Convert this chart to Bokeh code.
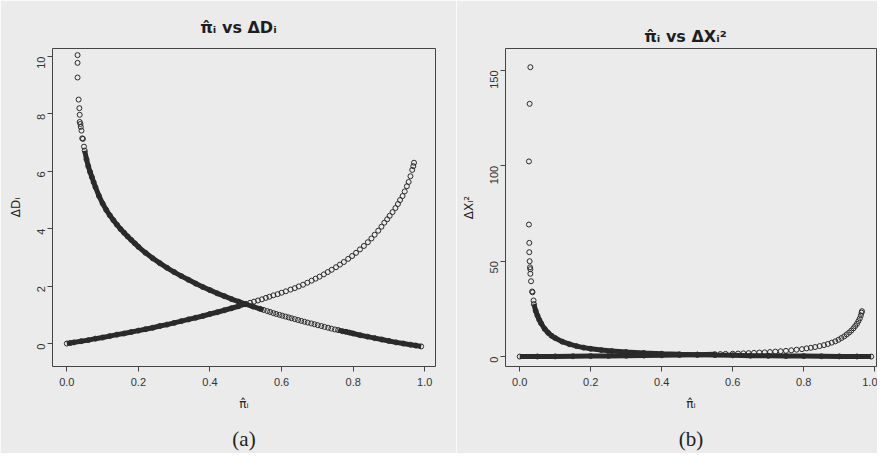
import math
from bokeh.plotting import figure
from bokeh.layouts import row
from bokeh.models import FixedTicker, LinearAxis, Range1d, PrintfTickFormatter
from bokeh.embed import file_html
from bokeh.resources import INLINE

# ---------------- panel (a): pi_hat vs Delta D ----------------
# y = 1 cases, isolated points at the top
a1_top_pi = [0.030, 0.030, 0.030, 0.033, 0.035, 0.036, 0.036, 0.038, 0.039, 0.041, 0.043, 0.045, 0.048]
a1_top_d = [10.05, 9.78, 9.27, 8.50, 8.20, 7.97, 7.72, 7.65, 7.55, 7.42, 7.15, 7.13, 6.86]
# y = 1 cases, dense band
a1_band_pi = [0.050, 0.055, 0.060, 0.065, 0.070, 0.075, 0.080, 0.090, 0.100, 0.110, 0.120, 0.130,
              0.140, 0.150, 0.160, 0.170, 0.180, 0.190, 0.200, 0.220, 0.240, 0.260, 0.280, 0.300,
              0.320, 0.340, 0.360, 0.380, 0.400, 0.420, 0.440, 0.460, 0.480, 0.500, 0.520, 0.540, 0.550]
a1_band_d = [6.72, 6.42, 6.18, 5.98, 5.80, 5.62, 5.45, 5.14, 4.88, 4.66, 4.47, 4.30,
             4.14, 3.99, 3.86, 3.73, 3.61, 3.49, 3.37, 3.16, 2.97, 2.80, 2.64, 2.49,
             2.35, 2.22, 2.09, 1.97, 1.86, 1.75, 1.65, 1.55, 1.46, 1.37, 1.29, 1.21, 1.17]
# y = 1 cases, loose middle section
a1_mid_pi = [0.560, 0.568, 0.577, 0.585, 0.594, 0.602, 0.611, 0.620, 0.628, 0.637, 0.646, 0.655,
             0.664, 0.673, 0.683, 0.692, 0.701, 0.711, 0.720, 0.730, 0.739, 0.749]
a1_mid_d = [1.13, 1.10, 1.06, 1.03, 1.00, 0.97, 0.94, 0.91, 0.88, 0.85, 0.82, 0.79,
            0.76, 0.73, 0.70, 0.67, 0.64, 0.61, 0.58, 0.55, 0.52, 0.49]
# y = 1 cases, dense tail
a1_tail_pi = [0.758, 0.770, 0.780, 0.790, 0.800, 0.820, 0.840, 0.860, 0.880, 0.900, 0.920, 0.940, 0.960, 0.975, 0.990]
a1_tail_d = [0.47, 0.43, 0.41, 0.38, 0.35, 0.29, 0.24, 0.19, 0.14, 0.09, 0.04, 0.00, -0.04, -0.07, -0.10]
# y = 0 cases, dense band
a0_band_pi = [0.000, 0.010, 0.020, 0.040, 0.060, 0.080, 0.100, 0.120, 0.140, 0.160, 0.180, 0.200,
              0.220, 0.240, 0.260, 0.280, 0.300, 0.320, 0.340, 0.360, 0.380, 0.400, 0.420, 0.440,
              0.460, 0.480, 0.500]
a0_band_d = [0.00, 0.02, 0.04, 0.08, 0.12, 0.17, 0.21, 0.26, 0.31, 0.35, 0.40, 0.45,
             0.50, 0.55, 0.61, 0.66, 0.72, 0.78, 0.84, 0.90, 0.96, 1.03, 1.09, 1.16,
             1.23, 1.30, 1.38]
# y = 0 cases, loose rising section
a0_loose_pi = [0.512, 0.523, 0.534, 0.545, 0.556, 0.566, 0.577, 0.589, 0.600, 0.612, 0.625, 0.637,
               0.648, 0.660, 0.672, 0.684, 0.695, 0.706, 0.718, 0.729, 0.740, 0.752, 0.763, 0.774,
               0.786, 0.797, 0.808, 0.819, 0.830, 0.841, 0.851, 0.860, 0.870, 0.879, 0.887, 0.895,
               0.902, 0.910, 0.918, 0.925, 0.931, 0.938, 0.944, 0.950, 0.955, 0.960, 0.965, 0.968, 0.970]
a0_loose_d = [1.42, 1.46, 1.50, 1.54, 1.59, 1.63, 1.68, 1.72, 1.77, 1.82, 1.88, 1.93,
              1.99, 2.05, 2.12, 2.19, 2.26, 2.33, 2.41, 2.49, 2.57, 2.66, 2.75, 2.84,
              2.95, 3.05, 3.16, 3.28, 3.40, 3.53, 3.66, 3.79, 3.93, 4.07, 4.21, 4.33,
              4.45, 4.58, 4.72, 4.86, 5.00, 5.14, 5.30, 5.48, 5.63, 5.83, 6.05, 6.18, 6.30]

# ---------------- panel (b): pi_hat vs Delta X^2 ----------------
b1_top_pi = [0.030, 0.028, 0.026, 0.026, 0.027, 0.027, 0.028, 0.029, 0.030, 0.030, 0.032, 0.035, 0.036, 0.039]
b1_top_x = [151.7, 132.5, 102.3, 69.2, 59.6, 54.7, 50.0, 46.8, 45.8, 43.4, 39.5, 34.1, 33.7, 29.4]
b1_band_pi = [0.040, 0.045, 0.050, 0.055, 0.060, 0.070, 0.080, 0.090, 0.100, 0.120, 0.140, 0.160,
              0.180, 0.200, 0.230, 0.260, 0.300, 0.350, 0.400, 0.450, 0.500, 0.550, 0.600, 0.650,
              0.700, 0.750, 0.800, 0.850, 0.900, 0.950, 0.990]
b1_band_x = [27.5, 24.0, 21.5, 19.3, 17.5, 14.6, 12.5, 10.9, 9.7, 7.8, 6.5, 5.5,
             4.7, 4.1, 3.4, 2.9, 2.4, 1.9, 1.5, 1.2, 1.0, 0.8, 0.65, 0.5,
             0.4, 0.3, 0.25, 0.18, 0.1, 0.05, 0.0]
b0_band_pi = [0.000, 0.050, 0.100, 0.150, 0.200, 0.250, 0.300, 0.350, 0.400, 0.450, 0.500, 0.550]
b0_band_x = [0.0, 0.05, 0.1, 0.18, 0.25, 0.33, 0.43, 0.54, 0.67, 0.82, 1.0, 1.2]
b0_loose_pi = [0.565, 0.580, 0.600, 0.615, 0.630, 0.645, 0.660, 0.675, 0.690, 0.705, 0.720, 0.735,
               0.750, 0.765, 0.780, 0.795, 0.808, 0.820, 0.832, 0.845, 0.857, 0.868, 0.879, 0.889,
               0.898, 0.906, 0.914, 0.921, 0.928, 0.934, 0.940, 0.945, 0.950, 0.954, 0.958, 0.961,
               0.963, 0.964]
b0_loose_x = [1.3, 1.4, 1.5, 1.6, 1.7, 1.8, 1.95, 2.1, 2.2, 2.4, 2.6, 2.8,
              3.0, 3.3, 3.6, 3.9, 4.3, 4.6, 5.0, 5.5, 6.0, 6.6, 7.3, 8.0,
              8.8, 9.7, 10.6, 11.6, 12.6, 13.6, 14.8, 16.0, 17.2, 18.6, 20.0, 21.6,
              23.0, 23.8]

x_ticks = [0.0, 0.2, 0.4, 0.6, 0.8, 1.0]
a_y_ticks = [0, 2, 4, 6, 8, 10]
b_y_ticks = [0, 50, 100, 150]

PI_HAT = "\u03c0\u0302\u1d62"
BG = "#ebebeb"
INK = "#2a2a2a"
AXC = "#444444"
SANS = "Liberation Sans"
MATH = "DejaVu Sans"
TOP, BOTTOM = 48, 87


def make_fig(width, bl, br, xr, yr, yticks, title, title_standoff, ylabel, caption):
    p = figure(width=width, height=453, x_range=Range1d(*xr), y_range=Range1d(*yr),
               output_backend="svg", toolbar_location=None,
               min_border_left=bl, min_border_right=br, min_border_top=TOP, min_border_bottom=BOTTOM,
               background_fill_color=BG, border_fill_color=BG,
               outline_line_color=AXC, outline_line_width=1)
    p.grid.visible = False
    p.title.text = title
    p.title.align = "center"
    p.title.text_font = MATH
    p.title.text_font_size = "16px"
    p.title.text_font_style = "bold"
    p.title.text_color = "#1e1e1e"
    p.title.standoff = title_standoff
    for ax in (p.xaxis[0], p.yaxis[0]):
        ax.axis_line_color = None
        ax.major_tick_in = 0
        ax.major_tick_out = 5
        ax.major_tick_line_color = AXC
        ax.minor_tick_line_color = None
        ax.major_label_text_font = SANS
        ax.major_label_text_font_size = "11px"
        ax.major_label_text_color = "#333333"
        ax.axis_label_text_font = MATH
        ax.axis_label_text_font_size = "12px"
        ax.axis_label_text_font_style = "normal"
        ax.axis_label_text_color = "#222222"
        ax.major_label_standoff = 6
        ax.axis_label_standoff = 8
    p.xaxis.ticker = FixedTicker(ticks=x_ticks)
    p.xaxis.formatter = PrintfTickFormatter(format="%.1f")
    p.xaxis.axis_label = PI_HAT
    p.yaxis.ticker = FixedTicker(ticks=yticks)
    p.yaxis.major_label_orientation = math.pi / 2
    p.yaxis.axis_label = ylabel
    cap = LinearAxis(axis_label=caption, ticker=FixedTicker(ticks=[]),
                     major_tick_in=0, major_tick_out=0, minor_tick_in=0, minor_tick_out=0,
                     axis_line_color=None, major_label_text_font_size="0px",
                     major_label_standoff=0,
                     axis_label_text_font="Liberation Serif", axis_label_text_font_size="21px",
                     axis_label_text_font_style="normal", axis_label_text_color="#222222",
                     axis_label_standoff=13)
    p.add_layout(cap, "below")
    return p


def band(p, xs, ys):
    p.line(xs, ys, line_width=5, line_color=INK)
    p.scatter(xs, ys, marker="circle", size=5, fill_color=None, line_color=INK, line_width=1)


def loose(p, xs, ys):
    p.scatter(xs, ys, marker="circle", size=5, fill_color=None, line_color=INK, line_width=1)


pa = make_fig(456, 52, 21, (-0.04, 1.03), (-0.80, 10.28), a_y_ticks,
              PI_HAT + "  vs  \u0394D\u1d62", 24, "\u0394D\u1d62", "(a)")
band(pa, a1_band_pi, a1_band_d)
band(pa, a1_tail_pi, a1_tail_d)
band(pa, a0_band_pi, a0_band_d)
loose(pa, a1_top_pi, a1_top_d)
loose(pa, a1_mid_pi, a1_mid_d)
loose(pa, a0_loose_pi, a0_loose_d)

pb = make_fig(421, 49, 1, (-0.04, 1.005), (-5.2, 161.5), b_y_ticks,
              PI_HAT + "  vs  \u0394X\u1d62\u00b2", 6, "\u0394X\u1d62\u00b2", "(b)")
band(pb, b1_band_pi, b1_band_x)
band(pb, b0_band_pi, b0_band_x)
loose(pb, b1_top_pi, b1_top_x)
loose(pb, b0_loose_pi, b0_loose_x)

layout = row(pa, pb, spacing=0)
open("out.html", "w").write(file_html(layout, INLINE))
